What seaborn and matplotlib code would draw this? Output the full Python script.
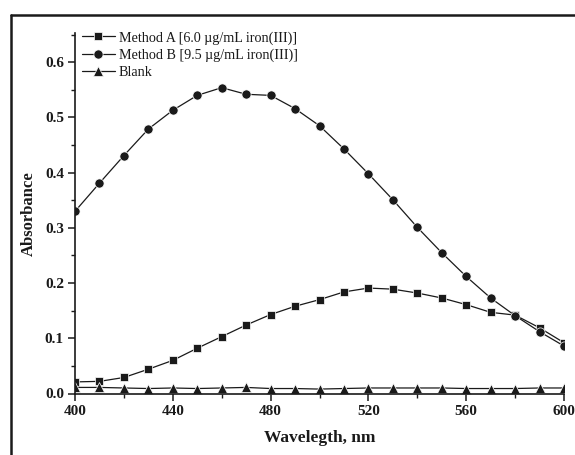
import matplotlib
matplotlib.use("Agg")
import matplotlib.pyplot as plt
import seaborn as sns
import pandas as pd
from matplotlib.lines import Line2D
from matplotlib.ticker import MultipleLocator

wavelength = [400, 410, 420, 430, 440, 450, 460, 470, 480, 490, 500,
              510, 520, 530, 540, 550, 560, 570, 580, 590, 600]
method_a = [0.021, 0.022, 0.029, 0.044, 0.060, 0.082, 0.103, 0.124, 0.143, 0.158, 0.170,
            0.184, 0.191, 0.189, 0.182, 0.173, 0.161, 0.147, 0.142, 0.119, 0.092]
method_b = [0.330, 0.381, 0.431, 0.479, 0.513, 0.540, 0.554, 0.542, 0.540, 0.516, 0.485,
            0.443, 0.398, 0.351, 0.301, 0.255, 0.212, 0.173, 0.141, 0.112, 0.086]
blank = [0.011, 0.011, 0.010, 0.009, 0.010, 0.009, 0.010, 0.011, 0.009, 0.009, 0.008,
         0.009, 0.010, 0.010, 0.010, 0.010, 0.009, 0.009, 0.009, 0.010, 0.010]
labels = ["Method A [6.0 \u00b5g/mL iron(III)]", "Method B [9.5 \u00b5g/mL iron(III)]", "Blank"]
markers = ["s", "o", "^"]
msizes = [6.2, 6.6, 7.8]

sns.set_style("ticks")
plt.rcParams["font.family"] = ["Liberation Serif", "DejaVu Serif"]

fig = plt.figure(figsize=(5.75, 4.55), dpi=100)
ax = fig.add_axes([75 / 575, (455 - 393.5) / 455, 489 / 575, 360.5 / 455])

for vals, lab, mk, ms in zip([method_a, method_b, blank], labels, markers, msizes):
    df = pd.DataFrame({"Wavelength": wavelength, "Absorbance": vals})
    sns.lineplot(data=df, x="Wavelength", y="Absorbance", ax=ax, color="#1a1a1a",
                 marker=mk, markersize=ms, markeredgewidth=0.5, markeredgecolor="white",
                 linewidth=0.9, label=lab)

ax.set_xlim(400, 600)
ax.set_ylim(0, 0.653)
ax.xaxis.set_major_locator(MultipleLocator(40))
ax.xaxis.set_minor_locator(MultipleLocator(20))
ax.yaxis.set_major_locator(MultipleLocator(0.1))
ax.yaxis.set_minor_locator(MultipleLocator(0.05))
ax.yaxis.set_major_formatter(matplotlib.ticker.FormatStrFormatter("%.1f"))

for s in ["top", "right"]:
    ax.spines[s].set_visible(False)
for s in ["left", "bottom"]:
    ax.spines[s].set_linewidth(1.2)
    ax.spines[s].set_color("#1a1a1a")

ax.tick_params(axis="both", which="major", direction="out", length=5, width=1.1,
               labelsize=11, colors="#1a1a1a", pad=3)
ax.tick_params(axis="both", which="minor", direction="out", length=3, width=1.0, colors="#1a1a1a")
for t in ax.get_xticklabels() + ax.get_yticklabels():
    t.set_fontweight("bold")

ax.set_xlabel("Wavelegth, nm", fontsize=12.5, fontweight="bold", color="#1a1a1a", labelpad=9)
ax.set_ylabel("Absorbance", fontsize=12, fontweight="bold", color="#1a1a1a", labelpad=6)

leg = ax.legend(loc="upper left", bbox_to_anchor=(0.0, 1.025), frameon=False, fontsize=10.2,
                handlelength=2.3, handletextpad=0.3, labelspacing=0.28, borderaxespad=0.3,
                borderpad=0.2)
for t in leg.get_texts():
    t.set_color("#1a1a1a")

# partial outer frame of the original figure
fig.add_artist(Line2D([11 / 575, 1.0], [1 - 15 / 455, 1 - 15 / 455], transform=fig.transFigure,
                      color="#1a1a1a", linewidth=1.8))
fig.add_artist(Line2D([11 / 575, 11 / 575], [0.0, 1 - 15 / 455], transform=fig.transFigure,
                      color="#1a1a1a", linewidth=1.8))

fig.savefig("out.png", dpi=100)
